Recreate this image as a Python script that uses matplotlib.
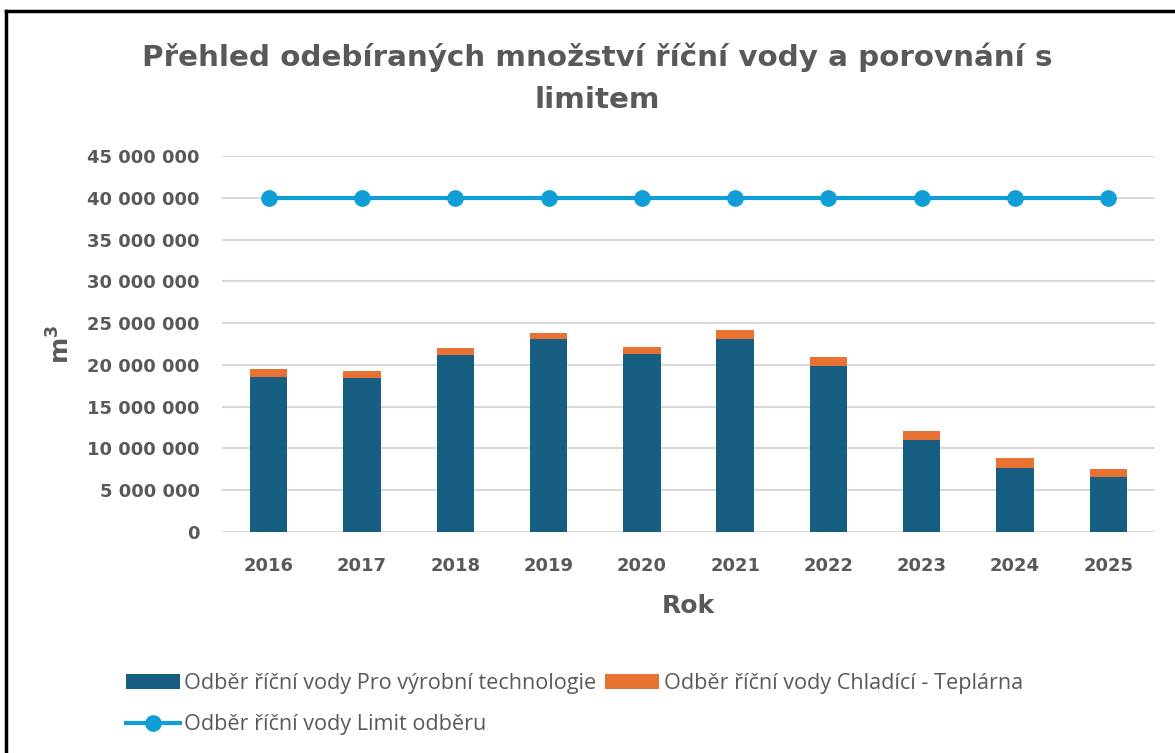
import numpy as np
import matplotlib
matplotlib.use("Agg")
from matplotlib import pyplot as plt
from matplotlib.lines import Line2D
from matplotlib.ticker import FuncFormatter

# Data (m3)
roky = ["2016", "2017", "2018", "2019", "2020", "2021", "2022", "2023", "2024", "2025"]
technologie = [18.5e6, 18.4e6, 21.15e6, 23.15e6, 21.25e6, 23.15e6, 19.85e6, 11.0e6, 7.65e6, 6.6e6]
chladici = [1.05e6, 0.9e6, 0.9e6, 0.7e6, 0.9e6, 1.07e6, 1.1e6, 1.12e6, 1.15e6, 0.97e6]
limit = [40e6] * 10

blue = "#165F82"
orange = "#E97132"
cyan = "#0F9ED5"
gray = "#595959"

plt.rcParams['font.family'] = ['DejaVu Sans']

fig = plt.figure(figsize=(11.75, 7.53), dpi=100)
ax = fig.add_axes([222 / 1175, 1 - 532 / 753, (1155 - 222) / 1175, (532 - 156) / 753])

x = np.arange(len(roky))
ax.bar(x, technologie, width=0.4, color=blue, zorder=2,
       label="Odběr říční vody Pro výrobní technologie")
ax.bar(x, chladici, width=0.4, bottom=technologie, color=orange, zorder=2,
       label="Odběr říční vody Chladící - Teplárna")
ax.plot(x, limit, color=cyan, linewidth=3, marker="o", markersize=11, zorder=3,
        label="Odběr říční vody Limit odběru")

ax.set_xlim(-0.5, len(roky) - 0.5)
ax.set_ylim(0, 45e6)
ax.set_yticks(np.arange(0, 45e6 + 1, 5e6))
ax.yaxis.set_major_formatter(FuncFormatter(lambda v, p: f"{int(v):,}".replace(",", " ")))
ax.set_xticks(x)
ax.set_xticklabels(roky)
ax.grid(axis="y", color="#D9D9D9", linewidth=1.5, zorder=0)
ax.set_axisbelow(True)
for s in ax.spines.values():
    s.set_visible(False)
ax.tick_params(length=0, labelsize=13, labelcolor=gray)
ax.tick_params(axis="x", pad=18)
ax.tick_params(axis="y", pad=16)
for t in ax.get_xticklabels() + ax.get_yticklabels():
    t.set_fontweight("bold")

ax.set_xlabel("Rok", fontsize=18, fontweight="bold", color=gray, labelpad=14)
ax.set_ylabel("m$\\mathbf{^3}$", fontsize=18, fontweight="bold", color=gray, labelpad=9)

fig.text(0.508, 0.896, "Přehled odebíraných množství říční vody a porovnání s\nlimitem",
         ha="center", va="center", fontsize=21.2, fontweight="bold", color=gray,
         linespacing=1.62)

# legend: column-wise fill -> row1 = two bars, row2 = limit line
h, l = ax.get_legend_handles_labels()
order = [1, 0, 2]
hs = [h[i] for i in order]
ls = [l[i] for i in order]
leg = fig.legend(hs, ls, ncol=2, loc="upper left", bbox_to_anchor=(115 / 1175, 1 - 662 / 753),
                 frameon=False, handlelength=2.5, handleheight=0.7,
                 handletextpad=0.2, columnspacing=0.4, labelspacing=0.95, borderpad=0,
                 prop={"family": "Open Sans", "size": 15.6})
for t in leg.get_texts():
    t.set_color(gray)

# frame lines (top and left) like the source screenshot
fig.add_artist(Line2D([6 / 1175, 1], [1 - 11 / 753, 1 - 11 / 753], color="black", linewidth=2.5,
                      transform=fig.transFigure))
fig.add_artist(Line2D([6 / 1175, 6 / 1175], [0, 1 - 11 / 753], color="black", linewidth=2.5,
                      transform=fig.transFigure))

fig.savefig("out.png", dpi=100)
